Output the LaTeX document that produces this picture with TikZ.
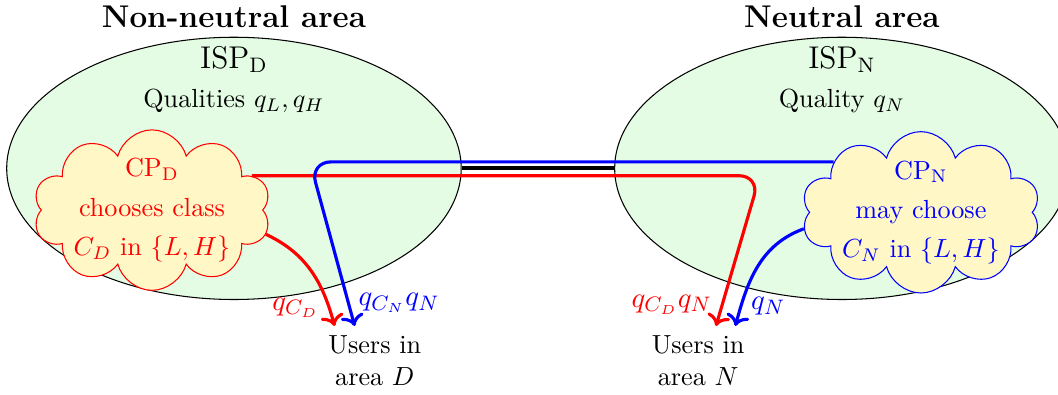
\documentclass[tikz,border=0pt]{standalone}
\usepackage{amsmath,amssymb}
\usepackage{xcolor}
\usepackage{tikz}
\usetikzlibrary{arrows.meta,positioning,calc,shapes.geometric,shapes.symbols}
\definecolor{areafill}{HTML}{E3FCE3}
\definecolor{cpfill}{HTML}{FFF8C6}

\begin{document}
\begin{tikzpicture}[
  area/.style={draw,ellipse,fill=areafill,minimum width=61mm,minimum height=35.2mm},
  cp/.style={cloud,cloud puffs=10,aspect=1.95,fill=cpfill,align=center,inner xsep=0pt,inner ysep=-2.9mm},
  users/.style={align=center},
  flow/.style={->,very thick,rounded corners=8pt},
  qlbl/.style={font=\fontsize{11}{13}\selectfont}]
  \useasboundingbox (0,0) rectangle (14.2,5.29);
  \node[area] (ispD) at (3.14,3.03) {};
  \node[area] (ispN) at (11.30,3.03) {};
  \node[font=\large\bfseries,above=0pt of ispD.north] (titD) {Non-neutral area};
  \node[font=\large\bfseries,above=0pt of ispN.north] (titN) {Neutral area};
  \node[font=\large,below=0pt of ispD.north] (nameD) {ISP$_{\mathrm{D}}$};
  \node[font=\large,below=0pt of ispN.north] (nameN) {ISP$_{\mathrm{N}}$};
  \node[below=-0.3mm of nameD] (qualD) {Qualities $q_L,q_H$};
  \node[below=-0.3mm of nameN] (qualN) {Quality $q_N$};
  \draw[line width=1.6pt] (ispD.east) -- (ispN.west);
  % content providers
  \node[cp,draw=red,text=red] (cpD) at (2.04,2.47) {CP$_{\mathrm{D}}$\\[3pt]chooses class\\[3pt]$C_D$ in $\{L,H\}$};
  \node[cp,draw=blue,text=blue] (cpN) at (12.36,2.44) {CP$_{\mathrm{N}}$\\[3pt]may choose\\[3pt]$C_N$ in $\{L,H\}$};
  \node[users] (usersD) at (5.03,0.45) {Users in\\[0.5pt]area $D$};
  \node[users] (usersN) at (9.37,0.45) {Users in\\[0.5pt]area $N$};
  \coordinate (redturn) at (10.2,0);
  \coordinate (blueturn) at (4.16,0);
  % flows
  \draw[flow,red] (cpD.19) -- (cpD.19 -| redturn)
    -- node[pos=0.86,left,qlbl]{$q_{C_D}q_N$} ([xshift=2.4mm]usersN.north);
  \draw[flow,red] (cpD.-12) to[out=-25,in=105] node[pos=0.85,left,qlbl]{$q_{C_D}$} ([xshift=-5.4mm]usersD.north);
  \draw[flow,blue] (cpN.150) -- (cpN.150 -| blueturn)
    -- node[pos=0.86,right,qlbl]{$q_{C_N}q_N$} ([xshift=-2.7mm]usersD.north);
  \draw[flow,blue] (cpN.188) to[out=200,in=75] node[pos=0.85,right,qlbl]{$q_N$} ([xshift=5mm]usersN.north);
\end{tikzpicture}
\end{document}
